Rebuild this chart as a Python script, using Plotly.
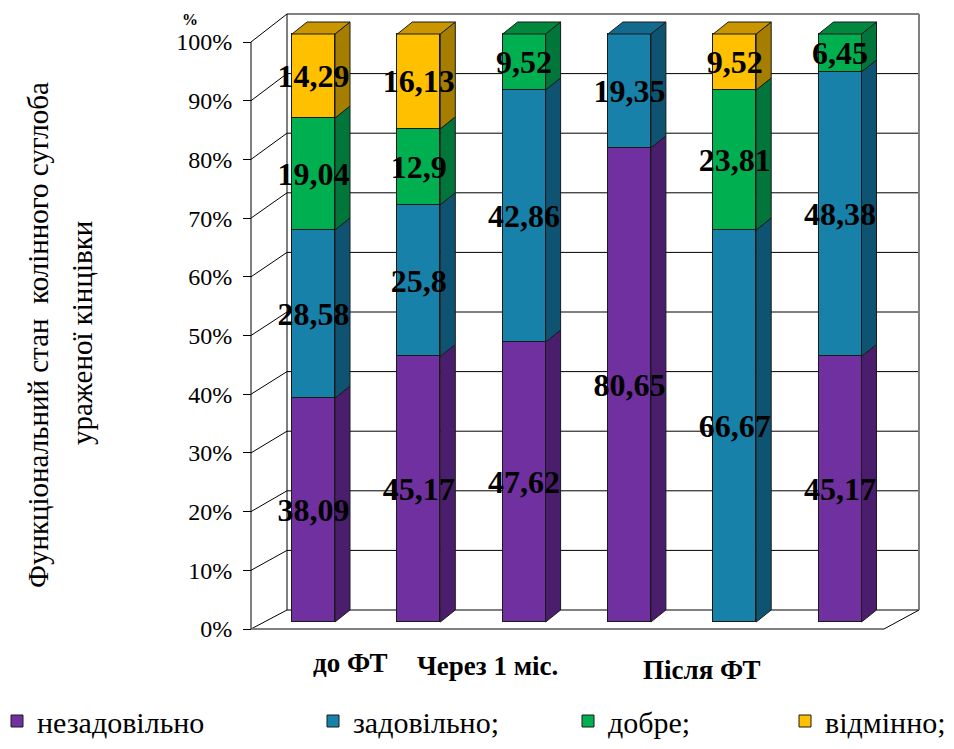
import plotly.graph_objects as go

# ---------------- data ----------------
series_names = ["незадовільно", "задовільно;", "добре;", "відмінно;"]
bar_pos = [0, 1, 2, 3, 4, 5]
unsatisfactory = [38.09, 45.17, 47.62, 80.65, 0, 45.17]
satisfactory = [28.58, 25.8, 42.86, 19.35, 66.67, 48.38]
good = [19.04, 12.9, 9.52, 0, 23.81, 6.45]
excellent = [14.29, 16.13, 0, 0, 9.52, 0]
tick_vals = [0, 10, 20, 30, 40, 50, 60, 70, 80, 90, 100]
tick_text = [f"{v}%" for v in tick_vals]
period_labels = ["до ФТ", "Через 1 міс.", "Після ФТ"]
y_title_lines = ["Функціональний стан\u00a0 колінного суглоба", "ураженої кінцівки"]

series = [unsatisfactory, satisfactory, good, excellent]
front_colors = ["#7030A0", "#1881AA", "#00B050", "#FFC000"]
side_colors = ["#4A1E6C", "#0E5472", "#00763A", "#A57E00"]
top_colors = ["#5A2585", "#136A8E", "#00883F", "#C99600"]

SERIF = "Liberation Serif, Tinos, Times New Roman, DejaVu Serif, serif"

# ---------------- geometry (figure pixels) ----------------
W, H = 938, 733
CAT0_PX, PX_PER_CAT = 305.5, 105.3
ZERO_PX, PX_PER_PCT = 614.0, 5.88
FRONT_ZERO_PX, FRONT_PX_PER_PCT = 621.0, 5.87
BACK_ZERO_PX, BACK_PX_PER_PCT = 602.0, 5.96

def xu(px):
    return (px - CAT0_PX) / PX_PER_CAT

x_range = [xu(0), xu(W)]
y_range = [(ZERO_PX - H) / PX_PER_PCT, ZERO_PX / PX_PER_PCT]
y2_range = [(FRONT_ZERO_PX - H) / FRONT_PX_PER_PCT, FRONT_ZERO_PX / FRONT_PX_PER_PCT]

def front_y(v):
    return (ZERO_PX - (FRONT_ZERO_PX - FRONT_PX_PER_PCT * v)) / PX_PER_PCT

def back_y(v):
    return (ZERO_PX - (BACK_ZERO_PX - BACK_PX_PER_PCT * v)) / PX_PER_PCT

BAR_W = 43 / PX_PER_CAT
DX = 15 / PX_PER_CAT
DY = 12 / PX_PER_PCT
LABEL_DROP = 3 / PX_PER_PCT
FRONT_X = xu(243)
BACK_L = xu(279)
BACK_R = xu(911)
FLOOR_R = xu(876)

def paper(px, py):
    return (px - 8) / W, 1 - (py - 8) / H

fig = go.Figure()

# ---------------- walls / grid (shapes, below traces) ----------------
shapes = []
for v in tick_vals:
    col = "#808080" if v == 100 else "#000000"
    wid = 2 if v == 100 else 1
    shapes.append(dict(type="line", xref="x", yref="y", x0=BACK_L, x1=BACK_R,
                       y0=back_y(v), y1=back_y(v), line=dict(color=col, width=wid), layer="below"))
    shapes.append(dict(type="line", xref="x", yref="y", x0=FRONT_X, x1=BACK_L,
                       y0=front_y(v), y1=back_y(v), line=dict(color="#000000", width=1), layer="below"))
shapes.append(dict(type="line", xref="x", yref="y", x0=BACK_L, x1=BACK_L,
                   y0=back_y(0), y1=back_y(100), line=dict(color="#000000", width=1), layer="below"))
shapes.append(dict(type="line", xref="x", yref="y", x0=BACK_R, x1=BACK_R,
                   y0=back_y(0), y1=back_y(100), line=dict(color="#808080", width=2), layer="below"))
shapes.append(dict(type="line", xref="x", yref="y", x0=FRONT_X, x1=FLOOR_R,
                   y0=front_y(0), y1=front_y(0), line=dict(color="#808080", width=2), layer="below"))
shapes.append(dict(type="line", xref="x", yref="y", x0=FLOOR_R, x1=BACK_R,
                   y0=front_y(0), y1=back_y(0), line=dict(color="#000000", width=1), layer="below"))

# front axis line on the tick axis
fig.add_trace(go.Scatter(x=[FRONT_X, FRONT_X], y=[tick_vals[0], tick_vals[-1]], yaxis="y2",
                         mode="lines", line=dict(color="#000000", width=1),
                         showlegend=False, hoverinfo="skip"))

# ---------------- bars (front faces) ----------------
legend_ids = ["legend", "legend2", "legend3", "legend4"]
for k, (name, vals) in enumerate(zip(series_names, series)):
    fig.add_trace(go.Bar(x=bar_pos, y=vals, name=name, width=BAR_W,
                         marker=dict(color=front_colors[k], line=dict(color="#1a1a1a", width=1)),
                         legend=legend_ids[k], hoverinfo="skip"))

# ---------------- 3D side & top faces ----------------
label_x, label_y, label_t = [], [], []
for i in bar_pos:
    base = 0.0
    top_k = None
    for k, vals in enumerate(series):
        v = vals[i]
        if v <= 0:
            continue
        xr = i + BAR_W / 2
        y0, y1 = base, base + v
        fig.add_trace(go.Scatter(
            x=[xr, xr + DX, xr + DX, xr, xr], y=[y0, y0 + DY, y1 + DY, y1, y0],
            mode="lines", fill="toself", fillcolor=side_colors[k],
            line=dict(color="#1a1a1a", width=1), showlegend=False, hoverinfo="skip"))
        label_x.append(i)
        label_y.append((y0 + y1) / 2 - LABEL_DROP)
        label_t.append(f"{v:g}".replace(".", ","))
        base = y1
        top_k = k
    if top_k is not None:
        xl, xr = i - BAR_W / 2, i + BAR_W / 2
        fig.add_trace(go.Scatter(
            x=[xl, xl + DX, xr + DX, xr, xl], y=[base, base + DY, base + DY, base, base],
            mode="lines", fill="toself", fillcolor=top_colors[top_k],
            line=dict(color="#1a1a1a", width=1), showlegend=False, hoverinfo="skip"))

# ---------------- data labels ----------------
fig.add_trace(go.Scatter(x=label_x, y=label_y, text=label_t, mode="text",
                         textposition="middle center",
                         textfont=dict(family=SERIF, size=32, color="#000000", weight="bold"),
                         showlegend=False, hoverinfo="skip"))

# ---------------- annotations ----------------
ann = []
for text, (px, py) in zip(period_labels, [(350, 663), (487, 666), (702, 670)]):
    ax, ay = paper(px, py)
    ann.append(dict(text=f"<b>{text}</b>", x=ax, y=ay, xref="paper", yref="paper",
                    showarrow=False, xanchor="center", yanchor="middle",
                    font=dict(family=SERIF, size=27, color="#000000")))
for text, (px, py) in zip(y_title_lines, [(38, 335), (82, 333)]):
    ax, ay = paper(px, py)
    ann.append(dict(text=text, x=ax, y=ay, xref="paper", yref="paper", textangle=-90,
                    showarrow=False, xanchor="center", yanchor="middle",
                    font=dict(family=SERIF, size=29, color="#000000")))
ax, ay = paper(190, 20)
ann.append(dict(text="<b>%</b>", x=ax, y=ay, xref="paper", yref="paper", showarrow=False,
                xanchor="center", yanchor="middle",
                font=dict(family=SERIF, size=16, color="#000000")))

# ---------------- legends ----------------
legend_font = dict(family=SERIF, size=30, color="#000000")
legend_layout = {}
for lid, sq_px in zip(legend_ids, [24, 340, 595, 812]):
    lx, ly = paper(sq_px - 27, 721)
    legend_layout[lid] = dict(x=lx, y=ly, xanchor="left", yanchor="middle",
                              orientation="h", font=legend_font, bgcolor="rgba(0,0,0,0)",
                              borderwidth=0, itemwidth=30)

fig.update_layout(
    width=W, height=H, autosize=False,
    margin=dict(l=0, r=0, t=0, b=0, autoexpand=False),
    paper_bgcolor="white", plot_bgcolor="white",
    barmode="stack", bargap=0,
    showlegend=True,
    xaxis=dict(range=x_range, visible=False, fixedrange=True),
    yaxis=dict(range=y_range, visible=False, fixedrange=True),
    yaxis2=dict(range=y2_range, overlaying="y", anchor="free", side="left",
                position=243 / W, tickvals=tick_vals, ticktext=tick_text,
                ticks="outside", ticklen=8, tickcolor="#000000", tickwidth=1,
                ticklabelstandoff=6,
                showgrid=False, zeroline=False, showline=False, fixedrange=True,
                tickfont=dict(family=SERIF, size=24, color="#000000")),
    shapes=shapes,
    annotations=ann,
    **legend_layout,
)

fig.write_html("out.html")
